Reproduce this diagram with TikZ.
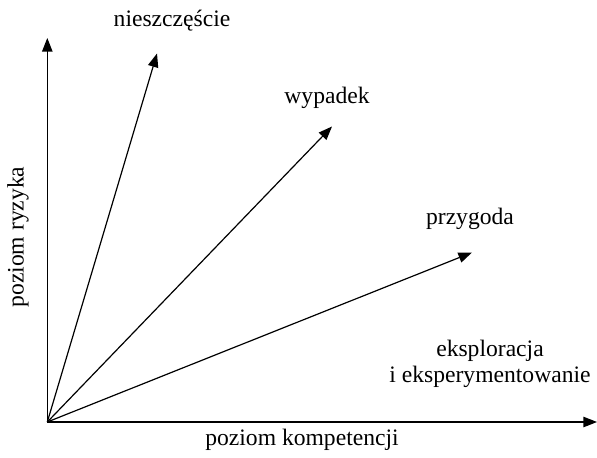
\documentclass[tikz,border=0pt]{standalone}
\usepackage{fontspec}
\setmainfont{Liberation Serif}
\usetikzlibrary{arrows.meta}
\begin{document}
\begin{tikzpicture}[x=0.5pt,y=-0.5pt,
  vec/.style={line width=0.6pt,-{Triangle[length=6.8pt,width=5.2pt]}},
  lbl/.style={font=\fontsize{11.8}{12.8}\selectfont,inner sep=0pt,align=center}]
\useasboundingbox (0,0) rectangle (597,458);
\coordinate (O) at (47.3,422);
\coordinate (ytip) at (47.3,38);
\coordinate (xtip) at (597,422);
\coordinate (t1) at (157,53.5);
\coordinate (t2) at (332,126.5);
\coordinate (t3) at (472,252.5);
\draw[vec] (O) -- (ytip);
\draw[vec] (O) -- (xtip);
\draw[vec] (O) -- (t1);
\draw[vec] (O) -- (t2);
\draw[vec] (O) -- (t3);
\node[lbl] (n1) at (172,21) {nieszczęście};
\node[lbl] (n2) at (327,98) {wypadek};
\node[lbl] (n3) at (470,219) {przygoda};
\node[lbl] (n4) at (490,364) {eksploracja\\i eksperymentowanie};
\node[lbl] (xl) at (302,440) {poziom kompetencji};
\node[lbl,rotate=90] (yl) at (18,237) {poziom ryzyka};
\end{tikzpicture}
\end{document}
